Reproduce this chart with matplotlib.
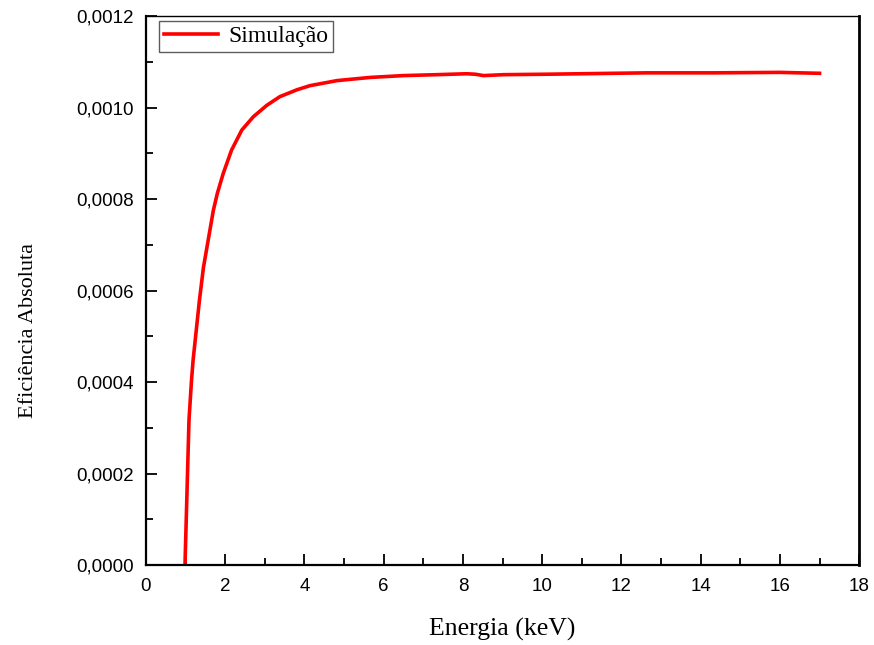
import matplotlib.pyplot as plt
from matplotlib.ticker import MultipleLocator, FuncFormatter

# Eficiência absoluta simulada em função da energia
energia = [0.985, 1.086, 1.15, 1.19, 1.35, 1.45, 1.57, 1.70, 1.80, 1.95,
           2.16, 2.42, 2.71, 3.05, 3.38, 3.64, 3.81, 4.14, 4.82, 5.66,
           6.50, 7.34, 8.09, 8.31, 8.52, 9.03, 10.12, 12.64, 14.33, 16.0, 17.0]
eficiencia = [0.0, 0.000317, 0.000404, 0.000448, 0.000579, 0.000650, 0.000710,
              0.000775, 0.000812, 0.000856, 0.000907, 0.000951, 0.000980,
              0.001005, 0.001024, 0.001033, 0.001039, 0.001048, 0.001059,
              0.001066, 0.001070, 0.001072, 0.001074, 0.001073, 0.001070,
              0.001072, 0.001073, 0.001076, 0.001076, 0.001077, 0.001075]

fig = plt.figure(figsize=(8.74, 6.45), dpi=100)
ax = fig.add_axes([0.167, 0.124, 0.816, 0.851])

ax.plot(energia, eficiencia, color='red', linewidth=2.6,
        solid_joinstyle='round', label='Simulação')

ax.set_xlim(0, 18)
ax.set_ylim(0, 0.0012)
ax.xaxis.set_major_locator(MultipleLocator(2))
ax.xaxis.set_minor_locator(MultipleLocator(1))
ax.yaxis.set_major_locator(MultipleLocator(0.0002))
ax.yaxis.set_minor_locator(MultipleLocator(0.0001))
ax.yaxis.set_major_formatter(FuncFormatter(lambda v, p: f'{v:.4f}'.replace('.', ',')))
ax.xaxis.set_major_formatter(FuncFormatter(lambda v, p: f'{v:.0f}'))

ax.tick_params(which='both', direction='in', width=1.3, labelsize=13.5, pad=9)
ax.tick_params(which='major', length=8)
ax.tick_params(which='minor', length=5)
for lab in ax.get_xticklabels() + ax.get_yticklabels():
    lab.set_family('Liberation Sans')

ax.spines['left'].set_linewidth(1.6)
ax.spines['bottom'].set_linewidth(1.6)
ax.spines['top'].set_linewidth(1.0)
ax.spines['right'].set_linewidth(2.0)

ax.set_xlabel('Energia (keV)', family='Liberation Serif', fontsize=18.5)
ax.set_ylabel('Eficiência Absoluta', family='Liberation Serif', fontsize=16)
ax.xaxis.set_label_coords(0.5, -0.097)
ax.yaxis.set_label_coords(-0.152, 0.428)

leg = ax.legend(loc='upper left', bbox_to_anchor=(0.018, 0.991),
                prop={'family': 'Liberation Serif', 'size': 17},
                frameon=True, fancybox=False, borderpad=0.2, handlelength=2.3,
                handletextpad=0.45, borderaxespad=0)
leg.get_frame().set_edgecolor('#333333')
leg.get_frame().set_linewidth(1.0)

fig.savefig('out.png', dpi=100)
